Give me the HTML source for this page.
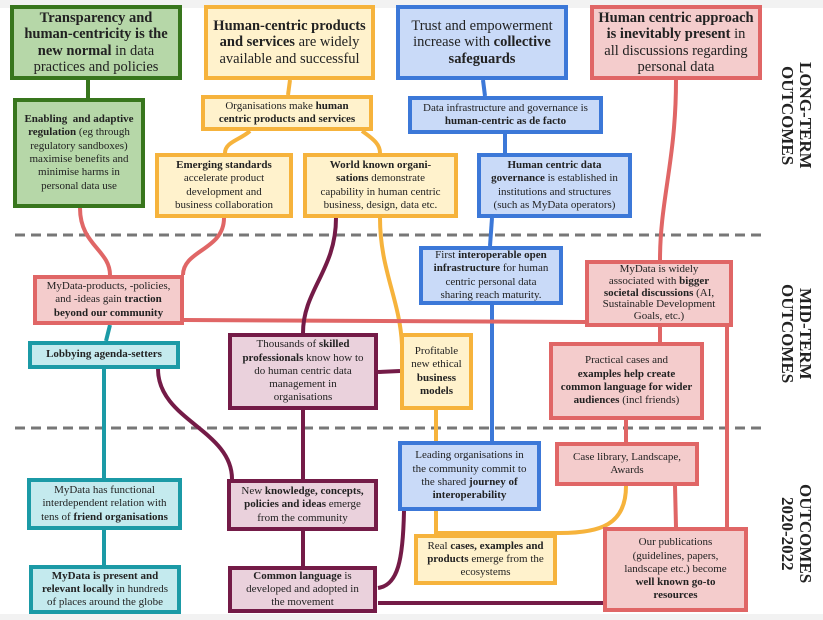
<!DOCTYPE html>
<html><head><meta charset="utf-8"><style>
body{margin:0;width:823px;height:620px;background:#fff;position:relative;overflow:hidden;font-family:"Liberation Serif","DejaVu Serif",serif;color:#222}
.b{position:absolute;box-sizing:border-box;border:4px solid;display:flex;align-items:center;justify-content:center;text-align:center;font-size:11px;line-height:13.3px;padding:0 2px;white-space:nowrap}
.big{font-size:14.5px;line-height:16.5px}
.g{border-color:#38761d;background:#b6d7a8}
.y{border-color:#f6b33c;background:#fff2cc}
.u{border-color:#3c78d8;background:#c9daf8}
.r{border-color:#e06666;background:#f4cccc}
.t{border-color:#1b9aa6;background:#c4eaee}
.m{border-color:#741b47;background:#ead1dc}
b{font-weight:bold}
svg{position:absolute;left:0;top:0}
.lab{position:absolute;writing-mode:vertical-rl;font-weight:bold;font-size:17px;line-height:18px;text-align:center;white-space:nowrap}
</style></head><body>
<svg width="823" height="620" fill="none" stroke-width="4">
<rect x="0" y="0" width="823" height="8" fill="#f2f2f2" stroke="none"/>
<rect x="0" y="614" width="823" height="6" fill="#f2f2f2" stroke="none"/>
<g stroke="#777" stroke-width="3" stroke-dasharray="10 6"><line x1="15" y1="235" x2="765" y2="235"/><line x1="15" y1="428" x2="765" y2="428"/></g>
<path d="M88 80V98" stroke="#38761d"/>
<g stroke="#f6b33c"><path d="M290 80L288 95"/><path d="M250 131C240 140 225 142 225 153"/><path d="M362 131C375 140 380 145 380 153"/><path d="M380 218C380 270 400 300 402 345"/><path d="M436 410V441"/><path d="M436 511V534"/><path d="M626 486C626 525 600 533 560 533L436 533"/></g>
<g stroke="#3c78d8"><path d="M483 80L485 96"/><path d="M505 134V153"/><path d="M492 218L490 246"/><path d="M492 305V441"/></g>
<g stroke="#e06666"><path d="M80 208C80 245 110 250 110 275"/><path d="M224 218C224 250 183 250 183 275"/><path d="M676 80C676 160 660 200 660 260"/><path d="M184 320L585 322"/><path d="M660 327V342"/><path d="M626 420V442"/><path d="M675 486L676 527"/><path d="M727 327V527"/></g>
<g stroke="#1b9aa6"><path d="M110 325L106 341"/><path d="M104 369V565"/></g>
<g stroke="#741b47"><path d="M336 218C336 270 303 290 303 333"/><path d="M158 369C158 420 232 430 232 479"/><path d="M303 410V566"/><path d="M378 372L400 371"/><path d="M378 588C398 585 403 560 404 511"/><path d="M378 603H603"/></g>
</svg>
<div class="b g big" style="left:10px;top:5px;width:172px;height:75px"><div><b>Transparency and<br>human-centricity is the<br>new normal</b> in data<br>practices and policies</div></div>
<div class="b g" style="left:13px;top:98px;width:132px;height:110px"><div><b>Enabling&nbsp; and adaptive<br>regulation</b> (eg through<br>regulatory sandboxes)<br>maximise benefits and<br>minimise harms in<br>personal data use</div></div>
<div class="b y big" style="left:204px;top:5px;width:171px;height:75px"><div><b>Human-centric products<br>and services</b> are widely<br>available and successful</div></div>
<div class="b y" style="left:201px;top:95px;width:172px;height:36px"><div>Organisations make <b>human<br>centric products and services</b></div></div>
<div class="b y" style="left:155px;top:153px;width:138px;height:65px"><div><b>Emerging standards</b><br>accelerate product<br>development and<br>business collaboration</div></div>
<div class="b y" style="left:303px;top:153px;width:155px;height:65px"><div><b>World known organi-<br>sations</b> demonstrate<br>capability in human centric<br>business, design, data etc.</div></div>
<div class="b u big" style="left:396px;top:5px;width:172px;height:75px"><div>Trust and empowerment<br>increase with <b>collective<br>safeguards</b></div></div>
<div class="b u" style="left:408px;top:96px;width:195px;height:38px"><div>Data infrastructure and governance is<br><b>human-centric as de facto</b></div></div>
<div class="b u" style="left:477px;top:153px;width:155px;height:65px"><div><b>Human centric data<br>governance</b> is established in<br>institutions and structures<br>(such as MyData operators)</div></div>
<div class="b r big" style="left:590px;top:5px;width:172px;height:75px"><div><b>Human centric approach<br>is inevitably present</b> in<br>all discussions regarding<br>personal data</div></div>
<div class="b r" style="left:33px;top:275px;width:151px;height:50px"><div>MyData-products, -policies,<br>and -ideas gain <b>traction<br>beyond our community</b></div></div>
<div class="b u" style="left:419px;top:246px;width:144px;height:59px"><div>First <b>interoperable open<br>infrastructure</b> for human<br>centric personal data<br>sharing reach maturity.</div></div>
<div class="b r" style="left:585px;top:260px;width:148px;height:67px;line-height:11.8px"><div>MyData is widely<br>associated with <b>bigger<br>societal discussions</b> (AI,<br>Sustainable Development<br>Goals, etc.)</div></div>
<div class="b t" style="left:28px;top:341px;width:152px;height:28px"><div><b>Lobbying agenda-setters</b></div></div>
<div class="b m" style="left:228px;top:333px;width:150px;height:77px"><div>Thousands of <b>skilled<br>professionals</b> know how to<br>do human centric data<br>management in<br>organisations</div></div>
<div class="b y" style="left:400px;top:333px;width:73px;height:77px"><div>Profitable<br>new ethical<br><b>business<br>models</b></div></div>
<div class="b r" style="left:549px;top:342px;width:155px;height:78px"><div>Practical cases and<br><b>examples help create<br>common language for wider<br>audiences</b> (incl friends)</div></div>
<div class="b u" style="left:398px;top:441px;width:143px;height:70px"><div>Leading organisations in<br>the community commit to<br>the shared <b>journey of<br>interoperability</b></div></div>
<div class="b r" style="left:555px;top:442px;width:144px;height:44px"><div>Case library, Landscape,<br>Awards</div></div>
<div class="b t" style="left:27px;top:478px;width:155px;height:52px"><div>MyData has functional<br>interdependent relation with<br>tens of <b>friend organisations</b></div></div>
<div class="b m" style="left:227px;top:479px;width:151px;height:52px"><div>New <b>knowledge, concepts,<br>policies and ideas</b> emerge<br>from the community</div></div>
<div class="b t" style="left:29px;top:565px;width:152px;height:49px"><div><b>MyData is present and<br>relevant locally</b> in hundreds<br>of places around the globe</div></div>
<div class="b m" style="left:228px;top:566px;width:149px;height:47px"><div><b>Common language</b> is<br>developed and adopted in<br>the movement</div></div>
<div class="b y" style="left:414px;top:534px;width:143px;height:51px"><div>Real <b>cases, examples and<br>products</b> emerge from the<br>ecosystems</div></div>
<div class="b r" style="left:603px;top:527px;width:145px;height:85px"><div>Our publications<br>(guidelines, papers,<br>landscape etc.) become<br><b>well known go-to<br>resources</b></div></div>
<div class="lab" style="left:778px;top:62px">LONG-TERM<br>OUTCOMES</div>
<div class="lab" style="left:778px;top:284px">MID-TERM<br>OUTCOMES</div>
<div class="lab" style="left:778px;top:484px">OUTCOMES<br>2020-2022</div>
</body></html>
